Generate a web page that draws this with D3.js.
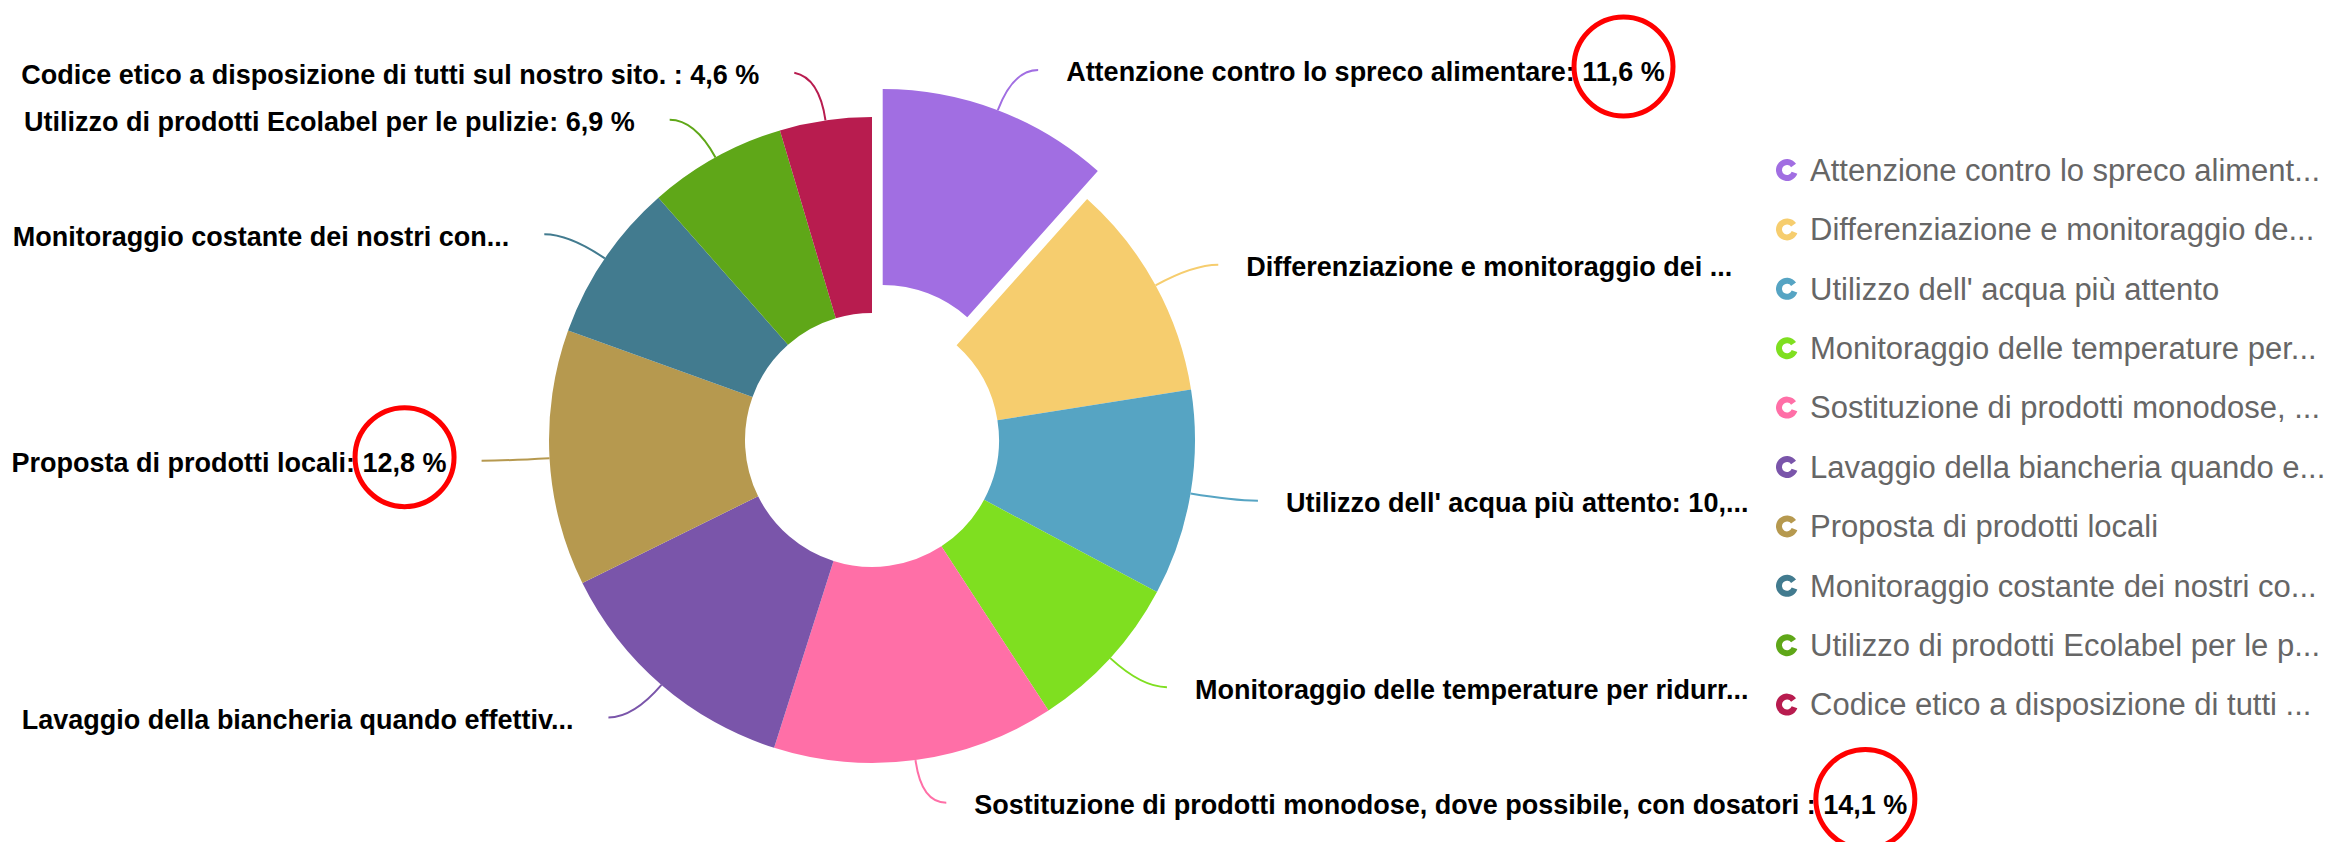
<!DOCTYPE html>
<html>
<head>
<meta charset="utf-8">
<script src="https://cdn.jsdelivr.net/npm/d3@7"></script>
<style>
  body { margin: 0; background: #fff; }
  text { font-family: Arial, "Liberation Sans", sans-serif; }
</style>
</head>
<body>
<div id="chart"></div>
<script>
// slice values (percent), clockwise from 12 o'clock
var values = [11.6, 10.9, 10.3, 8.0, 14.1, 12.8, 12.8, 8.0, 6.9, 4.6];

var colors = ["#a16ee2", "#f6cd6e", "#56a4c3", "#7fdf20", "#ff6fa7",
              "#7a55aa", "#b6994f", "#427b8f", "#5fa718", "#b81c4f"];

// label names as they are shown next to the slices
var labelNames = ["Attenzione contro lo spreco alimentare",
                  "Differenziazione e monitoraggio dei",
                  "Utilizzo dell' acqua più attento",
                  "Monitoraggio delle temperature per ridurr",
                  "Sostituzione di prodotti monodose, dove possibile, con dosatori ",
                  "Lavaggio della biancheria quando effettiv",
                  "Proposta di prodotti locali",
                  "Monitoraggio costante dei nostri con",
                  "Utilizzo di prodotti Ecolabel per le pulizie",
                  "Codice etico a disposizione di tutti sul nostro sito. "];

// truncated labels (value cut off)
var labelCut = [null, " ...", ": 10,...", "...", null, "...", null, "...", null, null];

var legendNames = ["Attenzione contro lo spreco aliment...",
                   "Differenziazione e monitoraggio de...",
                   "Utilizzo dell' acqua più attento",
                   "Monitoraggio delle temperature per...",
                   "Sostituzione di prodotti monodose, ...",
                   "Lavaggio della biancheria quando e...",
                   "Proposta di prodotti locali",
                   "Monitoraggio costante dei nostri co...",
                   "Utilizzo di prodotti Ecolabel per le p...",
                   "Codice etico a disposizione di tutti ..."];

var exploded = [0];        // pulled-out slice
var circled = [0, 4, 6];   // red hand-drawn circles around these values

var width = 2336, height = 842,
    cx = 872, cy = 440,
    outerR = 323, innerR = 127,
    explode = 30,
    minGap = 47;

var fmt = function(v) { return d3.format(".1f")(v).replace(".", ","); };

var svg = d3.select("#chart").append("svg")
    .attr("width", width)
    .attr("height", height);

svg.append("rect").attr("width", width).attr("height", height).attr("fill", "#fff");

var pie = d3.pie().sort(null).value(function(d) { return d; });
var arcs = pie(values);

var arc = d3.arc().innerRadius(innerR).outerRadius(outerR);

function polar(r, a) { return [r * Math.sin(a), -r * Math.cos(a)]; }

// label anchor points (slice-local coordinates)
var offs = arcs.map(function(d, i) {
    if (exploded.indexOf(i) < 0) return [0, 0];
    return polar(explode, (d.startAngle + d.endAngle) / 2);
});
var lab = arcs.map(function(d, i) {
    var m = (d.startAngle + d.endAngle) / 2;
    var right = Math.sin(m) > 0;
    var p1 = polar(outerR + 43, m);
    return { i: i, m: m, right: right, p1: p1,
             p2: [p1[0] + (right ? 25 : -25), p1[1]] };
});

// keep labels on the same side apart, pushing upward
[true, false].forEach(function(side) {
    var ls = lab.filter(function(l) { return l.right === side; })
        .sort(function(a, b) { return (b.p2[1] + offs[b.i][1]) - (a.p2[1] + offs[a.i][1]); });
    for (var k = 1; k < ls.length; k++) {
        var below = ls[k - 1].p2[1] + offs[ls[k - 1].i][1],
            me = ls[k].p2[1] + offs[ls[k].i][1];
        if (below - me < minGap) ls[k].p2[1] = below - minGap - offs[ls[k].i][1];
    }
});

var g = svg.append("g").attr("transform", "translate(" + cx + "," + cy + ")");

var slices = g.selectAll(".slice")
    .data(arcs)
    .enter().append("g")
    .attr("class", "slice")
    .attr("transform", function(d, i) {
        return "translate(" + offs[i][0] + "," + offs[i][1] + ")";
    });

slices.append("path")
    .attr("d", arc)
    .attr("fill", function(d, i) { return colors[i]; });

// connectors + labels
slices.each(function(d, i) {
    var sel = d3.select(this);
    var L = lab[i];
    var p0 = polar(outerR, L.m), p1 = L.p1, p2 = L.p2;
    var path = d3.path();
    path.moveTo(p0[0], p0[1]);
    path.quadraticCurveTo(p1[0], p1[1], p2[0], p2[1]);
    sel.append("path")
        .attr("d", path.toString())
        .attr("fill", "none")
        .attr("stroke", colors[i])
        .attr("stroke-width", 2);

    var t = sel.append("text")
        .attr("x", L.right ? p2[0] + 28 : p2[0] - 35)
        .attr("y", p2[1] + 2)
        .attr("dy", "0.35em")
        .attr("text-anchor", L.right ? "start" : "end")
        .style("font-size", "27px")
        .style("font-weight", "bold")
        .attr("fill", "#000");
    if (labelCut[i] !== null) {
        t.text(labelNames[i] + labelCut[i]);
    } else {
        t.append("tspan").text(labelNames[i] + ":");
        var v = t.append("tspan").text(" " + fmt(values[i]) + " %");
        if (circled.indexOf(i) >= 0) {
            var n = v.text().length;
            var a = v.node().getExtentOfChar(1),
                b = v.node().getExtentOfChar(n - 1);
            sel.append("circle")
                .attr("cx", (a.x + b.x + b.width) / 2)
                .attr("cy", a.y + a.height / 2 - 6)
                .attr("r", 49.5)
                .attr("fill", "none")
                .attr("stroke", "#ff0000")
                .attr("stroke-width", 5);
        }
    }
});

// legend
var legend = svg.append("g").attr("class", "legend")
    .selectAll("g")
    .data(legendNames)
    .enter().append("g")
    .attr("transform", function(d, i) { return "translate(1787," + (170 + i * 59.4) + ")"; });

var icon = d3.arc().innerRadius(5).outerRadius(11)
    .startAngle(110 * Math.PI / 180)
    .endAngle((360 + 55) * Math.PI / 180);

legend.append("path")
    .attr("d", icon)
    .attr("fill", function(d, i) { return colors[i]; });

legend.append("text")
    .attr("x", 23)
    .attr("y", 0)
    .attr("dy", "0.35em")
    .style("font-size", "31px")
    .attr("fill", "#666")
    .text(function(d) { return d; });
</script>
</body>
</html>
